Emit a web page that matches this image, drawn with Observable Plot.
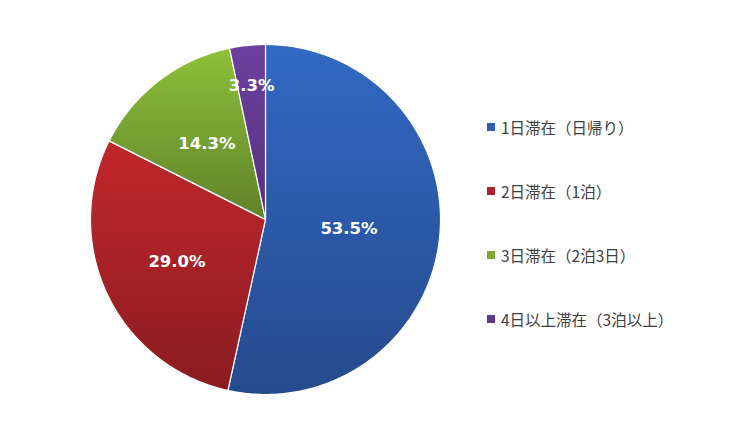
<!DOCTYPE html>
<html>
<head>
<meta charset="utf-8">
<script src="https://cdn.jsdelivr.net/npm/d3@7"></script>
<script src="https://cdn.jsdelivr.net/npm/@observablehq/plot@0.6"></script>
<style>
  html, body { margin: 0; padding: 0; background: #fff; }
  #wrap { position: relative; width: 733px; height: 446px; }
  #legend { position: absolute; left: 487px; top: 116px; font-family: "Noto Sans CJK JP", sans-serif; font-size: 15.5px; color: #404040; }
  .item { display: flex; align-items: center; height: 22px; margin-bottom: 42px; }
  .sw { width: 8px; height: 8px; margin-right: 6px; }
</style>
</head>
<body>
<div id="wrap"><div id="legend"></div></div>
<script>
const categories = ["1日滞在（日帰り）", "2日滞在（1泊）", "3日滞在（2泊3日）", "4日以上滞在（3泊以上）"];
const values = [53.5, 29.0, 14.3, 3.3];
const labels = ["53.5%", "29.0%", "14.3%", "3.3%"];

// styling / layout
const topColors = ["#3169C4", "#C1272D", "#8DC03A", "#6C409E"];
const bottomColors = ["#264A8C", "#8A1C20", "#5F822B", "#55327F"];
const swatch = ["#2D5DB0", "#B02428", "#7CAA34", "#5E3A8E"];
const labelRadius = [0.48, 0.56, 0.55, 0.77];

const total = d3.sum(values);
let acc = 0;
const slices = values.map((v, i) => {
  const a0 = acc / total * 2 * Math.PI;
  acc += v;
  const a1 = acc / total * 2 * Math.PI;
  return {i, name: categories[i], a0, a1};
});

const marks = slices.map(s => {
  const n = Math.max(4, Math.ceil((s.a1 - s.a0) / 0.01));
  const pts = [{x: 0, y: 0}];
  for (let k = 0; k <= n; k++) {
    const a = s.a0 + (s.a1 - s.a0) * k / n;
    pts.push({x: Math.sin(a), y: Math.cos(a)});
  }
  pts.push({x: 0, y: 0});
  return Plot.line(pts, {x: "x", y: "y", fill: `url(#grad${s.i})`, stroke: "white", strokeWidth: 1.2, curve: "linear"});
});

const labelData = slices.map(s => {
  const m = (s.a0 + s.a1) / 2;
  const r = labelRadius[s.i];
  return {x: r * Math.sin(m), y: r * Math.cos(m), t: labels[s.i]};
});

const chart = Plot.plot({
  width: 733,
  height: 446,
  margin: 0,
  x: {domain: [-1, 1], range: [90, 440], axis: null},
  y: {domain: [-1, 1], range: [394, 44], axis: null},
  marks: [
    ...marks,
    Plot.text(labelData, {x: "x", y: "y", text: "t", fill: "white", fontSize: 16.5, fontWeight: "bold", fontFamily: "DejaVu Sans"})
  ]
});

const defs = d3.select(chart).insert("defs", ":first-child");
slices.forEach(s => {
  const g = defs.append("linearGradient").attr("id", `grad${s.i}`)
    .attr("x1", 0).attr("y1", 0).attr("x2", 0).attr("y2", 1);
  g.append("stop").attr("offset", "0%").attr("stop-color", topColors[s.i]);
  g.append("stop").attr("offset", "100%").attr("stop-color", bottomColors[s.i]);
});

document.getElementById("wrap").prepend(chart);

const legend = d3.select("#legend");
categories.forEach((c, i) => {
  const it = legend.append("div").attr("class", "item");
  it.append("div").attr("class", "sw").style("background", swatch[i]);
  it.append("span").text(c);
});
</script>
</body>
</html>
